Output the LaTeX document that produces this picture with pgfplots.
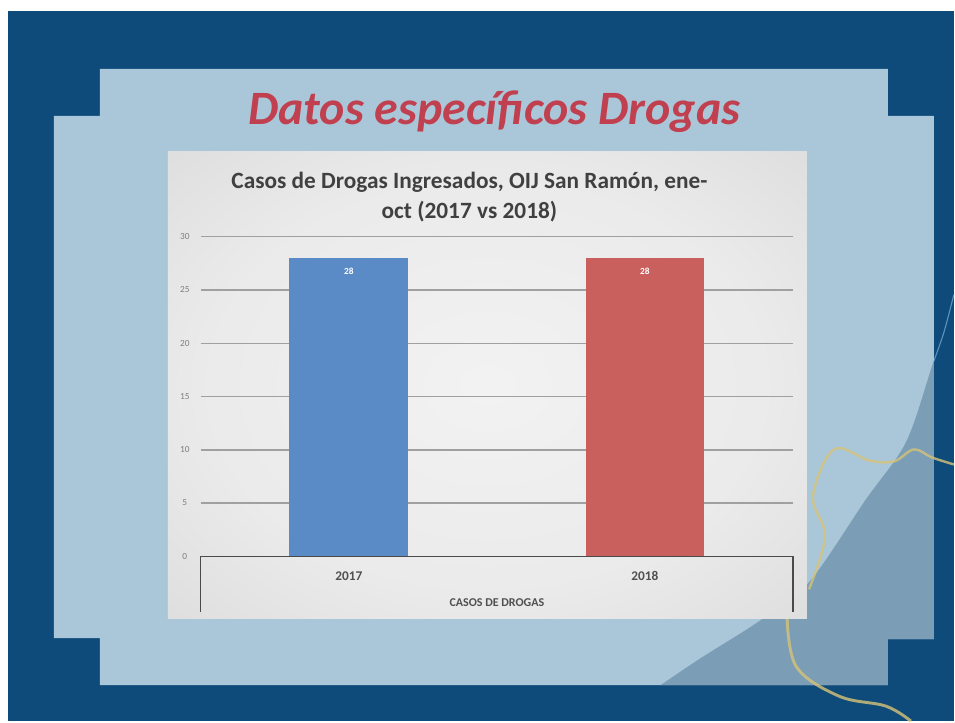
\documentclass[border=0pt]{standalone}
\usepackage{pgfplots}
\pgfplotsset{compat=1.18}
\usepackage{fontspec}
\setmainfont{Carlito}
\definecolor{slideblue}{HTML}{0E4B7B}
\definecolor{arcblue}{HTML}{5E93BF}
\definecolor{panel}{HTML}{AAC7D9}
\definecolor{paneldark}{HTML}{7B9DB6}
\definecolor{titlered}{HTML}{C0404F}
\definecolor{titlegray}{HTML}{404040}
\definecolor{gold}{HTML}{D6C378}
\definecolor{gridgray}{HTML}{A0A0A0}
\definecolor{tickgray}{HTML}{7F7F7F}
\definecolor{catgray}{HTML}{505050}
\definecolor{boxgray}{HTML}{4A4A4A}
\definecolor{barblue}{HTML}{5B8BC7}
\definecolor{barred}{HTML}{C9605D}
\pgfdeclareradialshading{chartbg}{\pgfpoint{0bp}{0bp}}{color(0bp)=(white!95!black); color(22bp)=(white!92!black); color(50bp)=(white!82!black); color(71bp)=(white!78!black)}
\begin{document}
\begin{tikzpicture}
\begin{scope}[x=0.75pt,y=-0.75pt]
\fill[white] (0,0) rectangle (955,722);
\fill[slideblue] (8,11) rectangle (955,722);
\draw[arcblue, line width=0.8pt] plot[smooth] coordinates {(955,295) (945,333) (933,367)};
\fill[panel] (100,69) -- (889,69) -- (889,116) -- (935,116) -- (935,640) -- (889,640) -- (889,686) -- (100,686) -- (100,639) -- (54,639) -- (54,116) -- (100,116) -- cycle;
\begin{scope}
\clip (100,69) -- (889,69) -- (889,116) -- (935,116) -- (935,640) -- (889,640) -- (889,686) -- (100,686) -- (100,639) -- (54,639) -- (54,116) -- (100,116) -- cycle;
\fill[paneldark] plot[smooth] coordinates {(955,295) (933,367) (907,443) (867,500) (810,583) (760,622) (700,660) (640,700) (600,722)} -- (955,722) -- cycle;
\end{scope}
\draw[gold, line width=1.8pt, opacity=0.8] plot[smooth, tension=0.6] coordinates {(810,590) (826,537) (814,497) (835,450) (870,461) (895,462) (915,450) (933,458) (955,465)};
\draw[gold, line width=2.2pt, opacity=0.8] plot[smooth, tension=0.6] coordinates {(788,615) (797,667) (840,697) (887,707) (912,722)};
\node[font=\fontsize{36}{40}\selectfont\bfseries\itshape, text=titlered] at (495,112) {Datos específicos Drogas};
\shade[shading=chartbg] (168,152) rectangle (808,619);
\node[align=center, font=\fontsize{17.5}{22.5}\selectfont\bfseries, text=titlegray] at (470,197) {Casos de Drogas Ingresados, OIJ San Ramón, ene-\\oct (2017 vs 2018)};
\end{scope}
\begin{axis}[
  at={(150.75pt,-417.75pt)}, anchor=south west,
  scale only axis, width=444.75pt, height=240pt,
  xmin=-0.5, xmax=1.5, ymin=0, ymax=30,
  ytick={0,5,...,30}, xtick={0,1}, xticklabels={2017,2018},
  ymajorgrids, grid style={gridgray, line width=1.1pt},
  axis line style={draw=none}, major tick length=0pt,
  /pgf/number format/assume math mode=true,
  yticklabel style={font=\fontsize{7}{8}\selectfont, text=tickgray, anchor=center, xshift=-12pt},
  xticklabel style={font=\fontsize{10}{12}\selectfont\bfseries, text=catgray, anchor=center, yshift=-15pt},
  xlabel={CASOS DE DROGAS},
  xlabel style={font=\fontsize{9}{11}\selectfont\bfseries, text=catgray, at={(axis description cs:0.5,0)}, anchor=center, yshift=-34.5pt},
  clip=false,
]
\addplot[ybar, bar shift=0pt, bar width=89.25pt, fill=barblue, draw=none,
  nodes near coords, nodes near coords style={anchor=north, text=white, font=\fontsize{7}{8}\selectfont\bfseries, yshift=-4pt}]
  coordinates {(0,28)};
\addplot[ybar, bar shift=0pt, bar width=89.25pt, fill=barred, draw=none,
  nodes near coords, nodes near coords style={anchor=north, text=white, font=\fontsize{7}{8}\selectfont\bfseries, yshift=-4pt}]
  coordinates {(1,28)};
\end{axis}
\begin{scope}[x=0.75pt,y=-0.75pt]
\draw[boxgray, line width=1.1pt] (201,613) -- (201,557) -- (794,557) -- (794,613);
\end{scope}
\end{tikzpicture}
\end{document}
